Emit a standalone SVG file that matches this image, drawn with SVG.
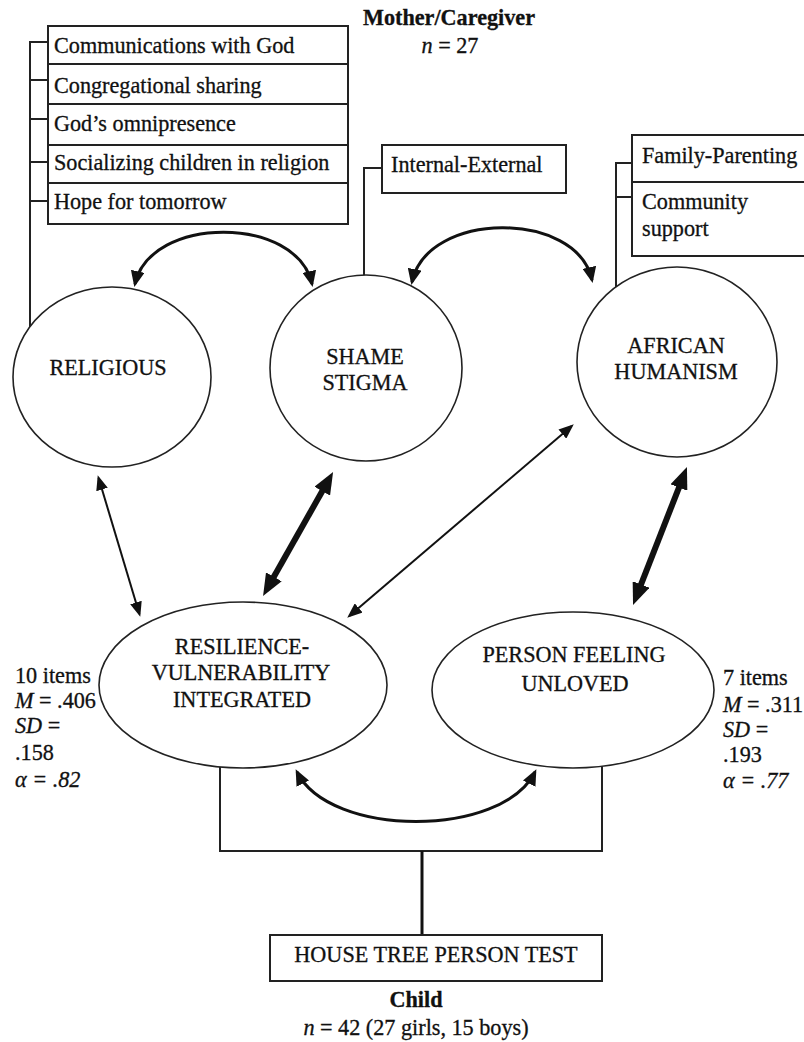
<svg xmlns="http://www.w3.org/2000/svg" width="804" height="1042" viewBox="0 0 804 1042">
<style>
text{font-family:"Liberation Serif","Times New Roman",serif;font-size:22.2px;fill:#111;stroke:#111;stroke-width:0.3}
.b{font-weight:bold}
.c{text-anchor:middle}
.i{font-style:italic}
.box{fill:#fff;stroke:#222;stroke-width:2}
.node{fill:#fff;stroke:#222;stroke-width:1.6}
.ln{fill:none;stroke:#222;stroke-width:2}
.thin{fill:none;stroke:#111;stroke-width:2}
.thick{fill:none;stroke:#111;stroke-width:6}
.curve{fill:none;stroke:#111;stroke-width:3}
</style>
<defs>
<marker id="ah" markerUnits="userSpaceOnUse" markerWidth="15" markerHeight="12" refX="12" refY="6" orient="auto-start-reverse"><path d="M0,0 L15,6 L0,12 z" fill="#111"/></marker>
<marker id="ahc" markerUnits="userSpaceOnUse" markerWidth="16" markerHeight="14" refX="13" refY="7" orient="auto-start-reverse"><path d="M0,0 L16,7 L0,14 z" fill="#111"/></marker>
<marker id="ahk" markerUnits="userSpaceOnUse" markerWidth="22" markerHeight="18" refX="4" refY="9" orient="auto-start-reverse"><path d="M0,0 L22,9 L0,18 z" fill="#111"/></marker>
</defs>
<rect width="804" height="1042" fill="#fff"/>

<g id="title">
<text class="b c" x="449" y="25">Mother/Caregiver</text>
<text class="c" x="450" y="53"><tspan class="i">n</tspan> = 27</text>
</g>

<g id="religious-items">
<rect class="box" x="48" y="26" width="300" height="38"/>
<rect class="box" x="48" y="64" width="300" height="40"/>
<rect class="box" x="48" y="104" width="300" height="41"/>
<rect class="box" x="48" y="145" width="300" height="38"/>
<rect class="box" x="48" y="183" width="300" height="41"/>
<text x="54" y="53">Communications with God</text>
<text x="54" y="93">Congregational sharing</text>
<text x="54" y="131">God’s omnipresence</text>
<text x="54" y="170">Socializing children in religion</text>
<text x="54" y="209">Hope for tomorrow</text>
</g>

<g id="shame-items">
<rect class="box" x="382" y="145" width="184" height="48"/>
<text x="391" y="172">Internal-External</text>
</g>

<g id="african-items">
<rect class="box" x="632" y="135" width="180" height="47"/>
<rect class="box" x="632" y="182" width="180" height="74"/>
<text x="642" y="163">Family-Parenting</text>
<text x="642" y="209">Community</text>
<text x="642" y="236">support</text>
</g>

<g id="connectors">
<path class="ln" d="M48,42 H30 V327 M30,80 H48 M30,119 H48 M30,162 H48 M30,201 H48"/>
<path class="ln" d="M382,168 H364 V276"/>
<path class="ln" d="M632,163 H616 V287 M616,197 H632"/>
<path class="ln" d="M220,767 V851 H602 V766"/>
<path fill="none" stroke="#111" stroke-width="3" d="M422,851 V935"/>
<path class="curve" d="M135,284 C150,215 297,215 312,284" marker-start="url(#ahc)" marker-end="url(#ahc)"/>
<path class="curve" d="M412,282 C427,210 577,210 592,280" marker-start="url(#ahc)" marker-end="url(#ahc)"/>
<path class="curve" d="M297,772 C330,838 502,838 535,772" marker-start="url(#ahc)" marker-end="url(#ahc)"/>
<line class="thin" x1="98.6" y1="478" x2="139.4" y2="614" marker-start="url(#ah)" marker-end="url(#ah)"/>
<line class="thin" x1="571.5" y1="426.3" x2="349.5" y2="615.7" marker-start="url(#ah)" marker-end="url(#ah)"/>
<line class="thick" x1="324.2" y1="487.7" x2="271.9" y2="580.3" marker-start="url(#ahk)" marker-end="url(#ahk)"/>
<line class="thick" x1="680.4" y1="483.8" x2="639.6" y2="588.2" marker-start="url(#ahk)" marker-end="url(#ahk)"/>
</g>

<g id="religious">
<ellipse class="node" cx="112" cy="377" rx="99" ry="90"/>
<text class="c" x="108" y="375">RELIGIOUS</text>
</g>

<g id="shame-stigma">
<ellipse class="node" cx="366" cy="368" rx="96" ry="93"/>
<text class="c" x="365" y="364">SHAME</text>
<text class="c" x="365" y="390">STIGMA</text>
</g>

<g id="african-humanism">
<ellipse class="node" cx="677" cy="362" rx="100" ry="95"/>
<text class="c" x="676" y="353">AFRICAN</text>
<text class="c" x="676" y="379">HUMANISM</text>
</g>

<g id="resilience">
<ellipse class="node" cx="243" cy="685" rx="144" ry="83"/>
<text class="c" x="242" y="654">RESILIENCE-</text>
<text class="c" x="241" y="680">VULNERABILITY</text>
<text class="c" x="242" y="707">INTEGRATED</text>
</g>

<g id="resilience-stats">
<text x="15" y="683">10 items</text>
<text x="15" y="708"><tspan class="i">M</tspan> = .406</text>
<text x="15" y="733"><tspan class="i">SD</tspan> =</text>
<text x="15" y="760">.158</text>
<text x="15" y="787" class="i">α = .82</text>
</g>

<g id="person-unloved">
<ellipse class="node" cx="573" cy="690" rx="141" ry="78"/>
<text class="c" x="574" y="662">PERSON FEELING</text>
<text class="c" x="575" y="691">UNLOVED</text>
</g>

<g id="person-stats">
<text x="723" y="685">7 items</text>
<text x="723" y="712"><tspan class="i">M</tspan> = .311</text>
<text x="723" y="737"><tspan class="i">SD</tspan> =</text>
<text x="723" y="762">.193</text>
<text x="723" y="788" class="i">α = .77</text>
</g>

<g id="htp-test">
<rect class="box" x="270" y="935" width="332" height="46"/>
<text class="c" x="436" y="962">HOUSE TREE PERSON TEST</text>
</g>

<g id="child">
<text class="b c" x="416" y="1007">Child</text>
<text class="c" x="416" y="1035"><tspan class="i">n</tspan> = 42 (27 girls, 15 boys)</text>
</g>
</svg>
